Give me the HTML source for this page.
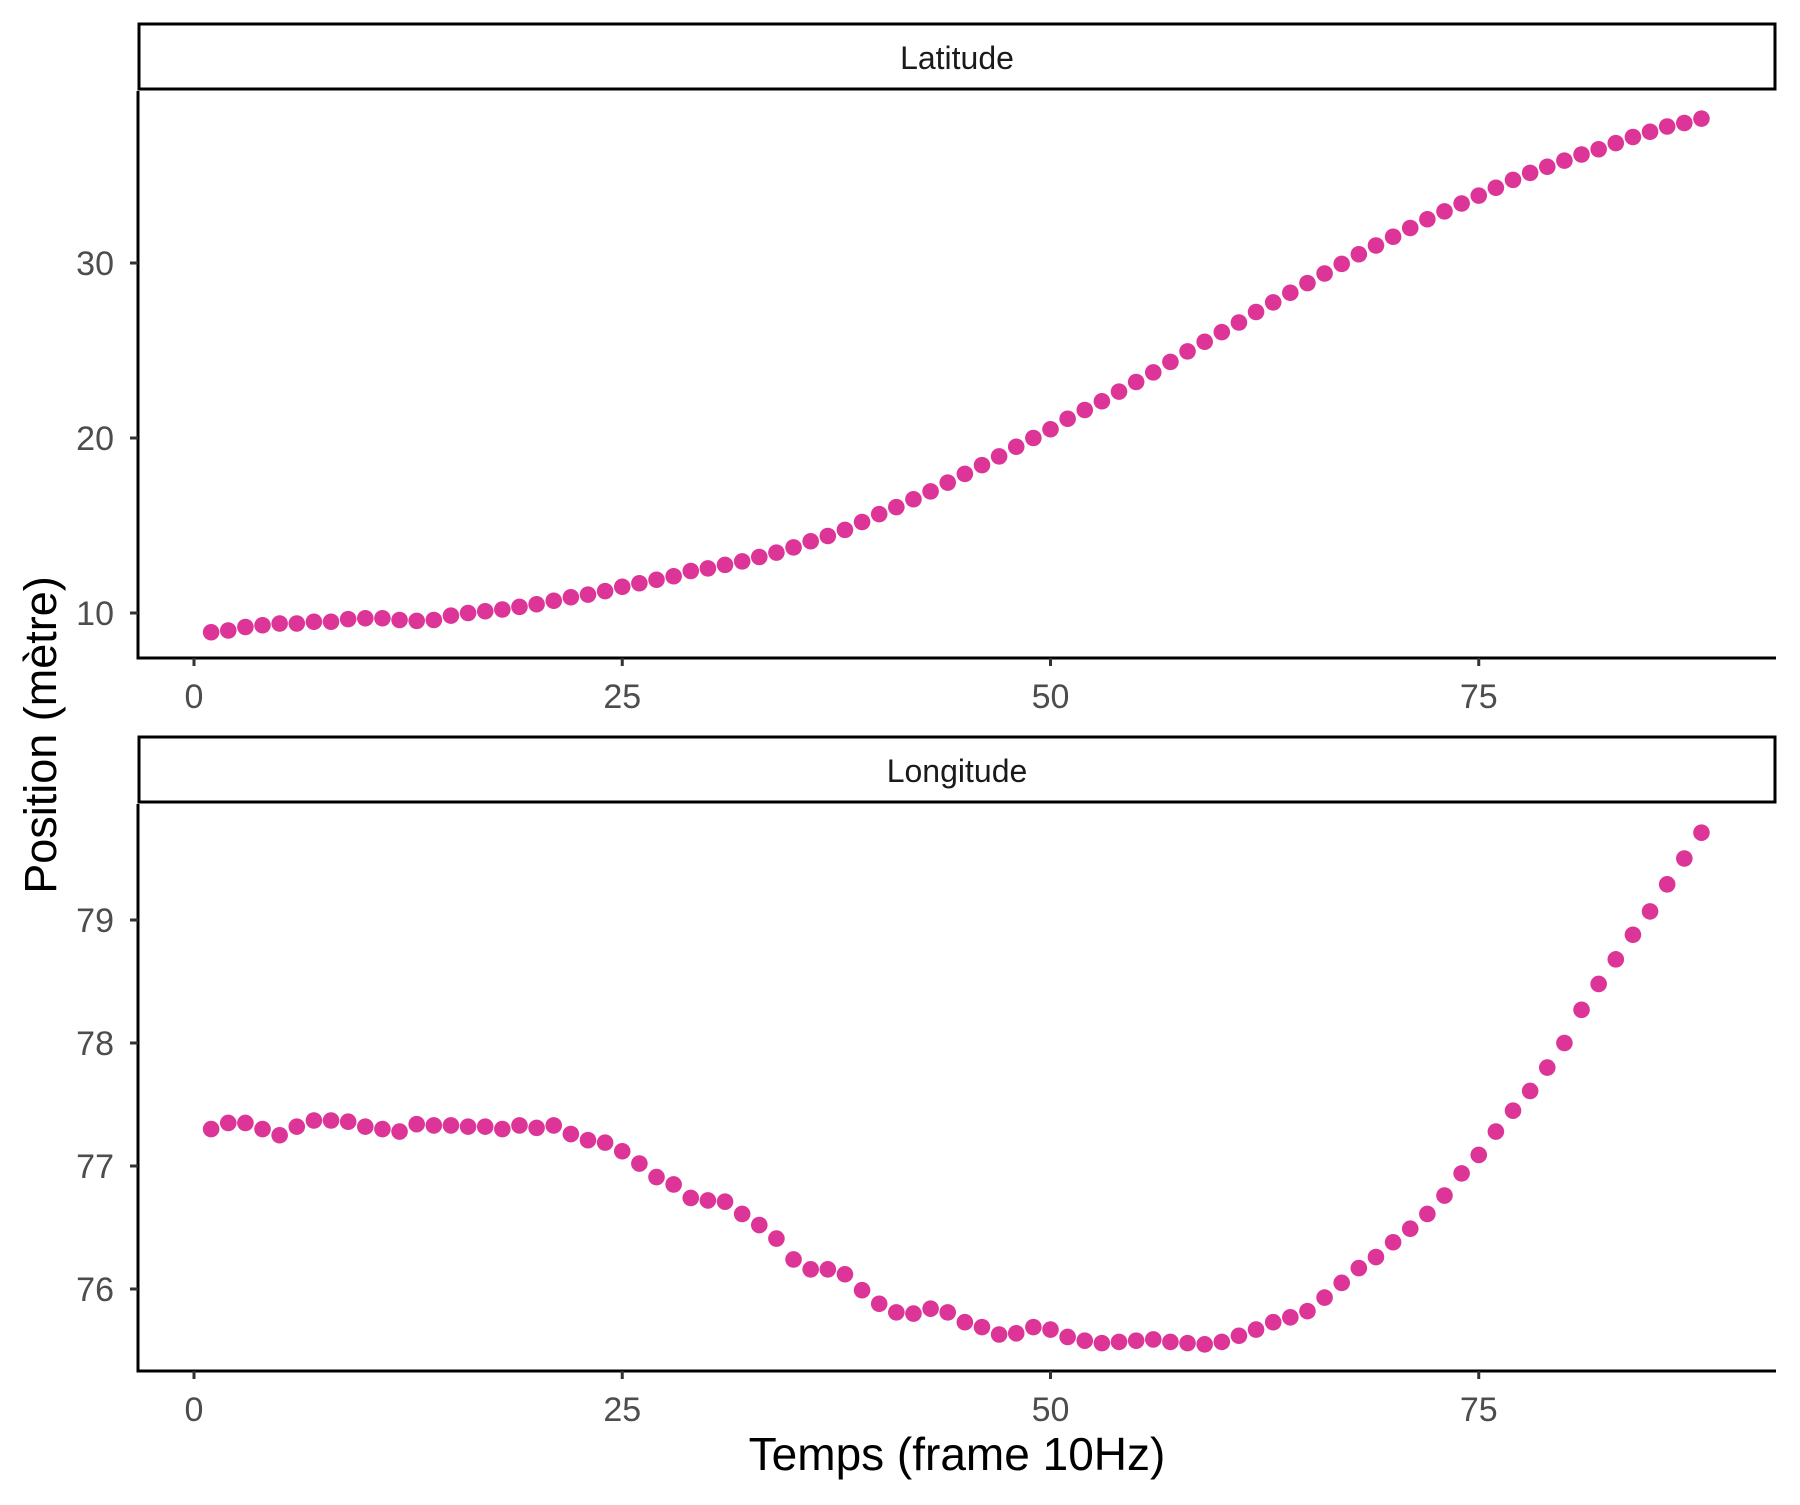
<!DOCTYPE html>
<html><head><meta charset="utf-8"><style>
html,body{margin:0;padding:0;background:#fff}
svg text{font-family:"Liberation Sans",Arial,sans-serif}
</style></head><body>
<svg id="s" width="1800" height="1500" viewBox="0 0 1800 1500" xmlns="http://www.w3.org/2000/svg">
<rect width="1800" height="1500" fill="#fff"/>
<rect x="139" y="24" width="1636" height="65" fill="#fff" stroke="#000" stroke-width="3"/>
<text x="957" y="69" font-size="32" text-anchor="middle" fill="#1a1a1a">Latitude</text>
<rect x="139" y="737" width="1636" height="65" fill="#fff" stroke="#000" stroke-width="3"/>
<text x="957" y="782" font-size="32" text-anchor="middle" fill="#1a1a1a">Longitude</text>
<g stroke="#000" stroke-width="3" fill="none">
<path d="M138,91 V658 H1776"/>
<path d="M138,804 V1371 H1776"/>
</g>
<g id="ticks" stroke="#333" stroke-width="3"></g>
<g id="labels" font-size="34" fill="#4d4d4d"></g>
<g id="pts" fill="#dc3597"></g>
<text x="957" y="1470" font-size="46" text-anchor="middle" fill="#000">Temps (frame 10Hz)</text>
<text transform="translate(56,735) rotate(-90)" font-size="45" text-anchor="middle" fill="#000">Position (mètre)</text>
</svg>
<script>
var lat=[8.9,9.0,9.2,9.3,9.4,9.4,9.5,9.5,9.65,9.7,9.7,9.6,9.55,9.6,9.85,10.0,10.1,10.2,10.35,10.5,10.7,10.9,11.05,11.25,11.5,11.7,11.9,12.1,12.4,12.55,12.75,12.95,13.2,13.45,13.75,14.1,14.4,14.75,15.2,15.65,16.05,16.5,16.95,17.45,17.95,18.45,18.95,19.5,20.0,20.5,21.1,21.6,22.1,22.65,23.2,23.75,24.35,24.95,25.5,26.05,26.6,27.2,27.75,28.3,28.85,29.4,29.95,30.5,31.0,31.5,32.0,32.5,32.95,33.4,33.85,34.3,34.75,35.15,35.5,35.85,36.2,36.5,36.85,37.2,37.5,37.8,38.0,38.25];
var lon=[77.3,77.35,77.35,77.3,77.25,77.32,77.37,77.37,77.36,77.32,77.3,77.28,77.34,77.33,77.33,77.32,77.32,77.3,77.33,77.31,77.33,77.26,77.21,77.19,77.12,77.02,76.91,76.85,76.74,76.72,76.71,76.61,76.52,76.41,76.24,76.16,76.16,76.12,75.99,75.88,75.81,75.8,75.84,75.81,75.73,75.69,75.63,75.64,75.69,75.67,75.61,75.58,75.56,75.57,75.58,75.59,75.57,75.56,75.55,75.57,75.62,75.67,75.73,75.77,75.82,75.93,76.05,76.17,76.26,76.38,76.49,76.61,76.76,76.94,77.09,77.28,77.45,77.61,77.8,78.0,78.27,78.48,78.68,78.88,79.07,79.29,79.5,79.71];
var NS="http://www.w3.org/2000/svg";
function X(v){return 194+v*17.13;}
function yl(v){return 613-(v-10)*17.5;}
function yo(v){return 920-(v-79)*123;}
function el(g,t,a,txt){var e=document.createElementNS(NS,t);for(var k in a)e.setAttribute(k,a[k]);if(txt!==undefined)e.textContent=txt;document.getElementById(g).appendChild(e);}
for(var i=0;i<88;i++){el("pts","circle",{cx:X(i+1),cy:yl(lat[i]),r:8.3});el("pts","circle",{cx:X(i+1),cy:yo(lon[i]),r:8.3});}
[10,20,30].forEach(function(v){var y=yl(v);el("ticks","line",{x1:130,x2:138,y1:y,y2:y});el("labels","text",{x:114,y:y+12,"text-anchor":"end"},v);});
[76,77,78,79].forEach(function(v){var y=yo(v);el("ticks","line",{x1:130,x2:138,y1:y,y2:y});el("labels","text",{x:114,y:y+12,"text-anchor":"end"},v);});
[0,25,50,75].forEach(function(v){var x=X(v);
el("ticks","line",{x1:x,x2:x,y1:658,y2:666});el("labels","text",{x:x,y:708,"text-anchor":"middle"},v);
el("ticks","line",{x1:x,x2:x,y1:1371,y2:1379});el("labels","text",{x:x,y:1421,"text-anchor":"middle"},v);});
</script>
</body></html>
